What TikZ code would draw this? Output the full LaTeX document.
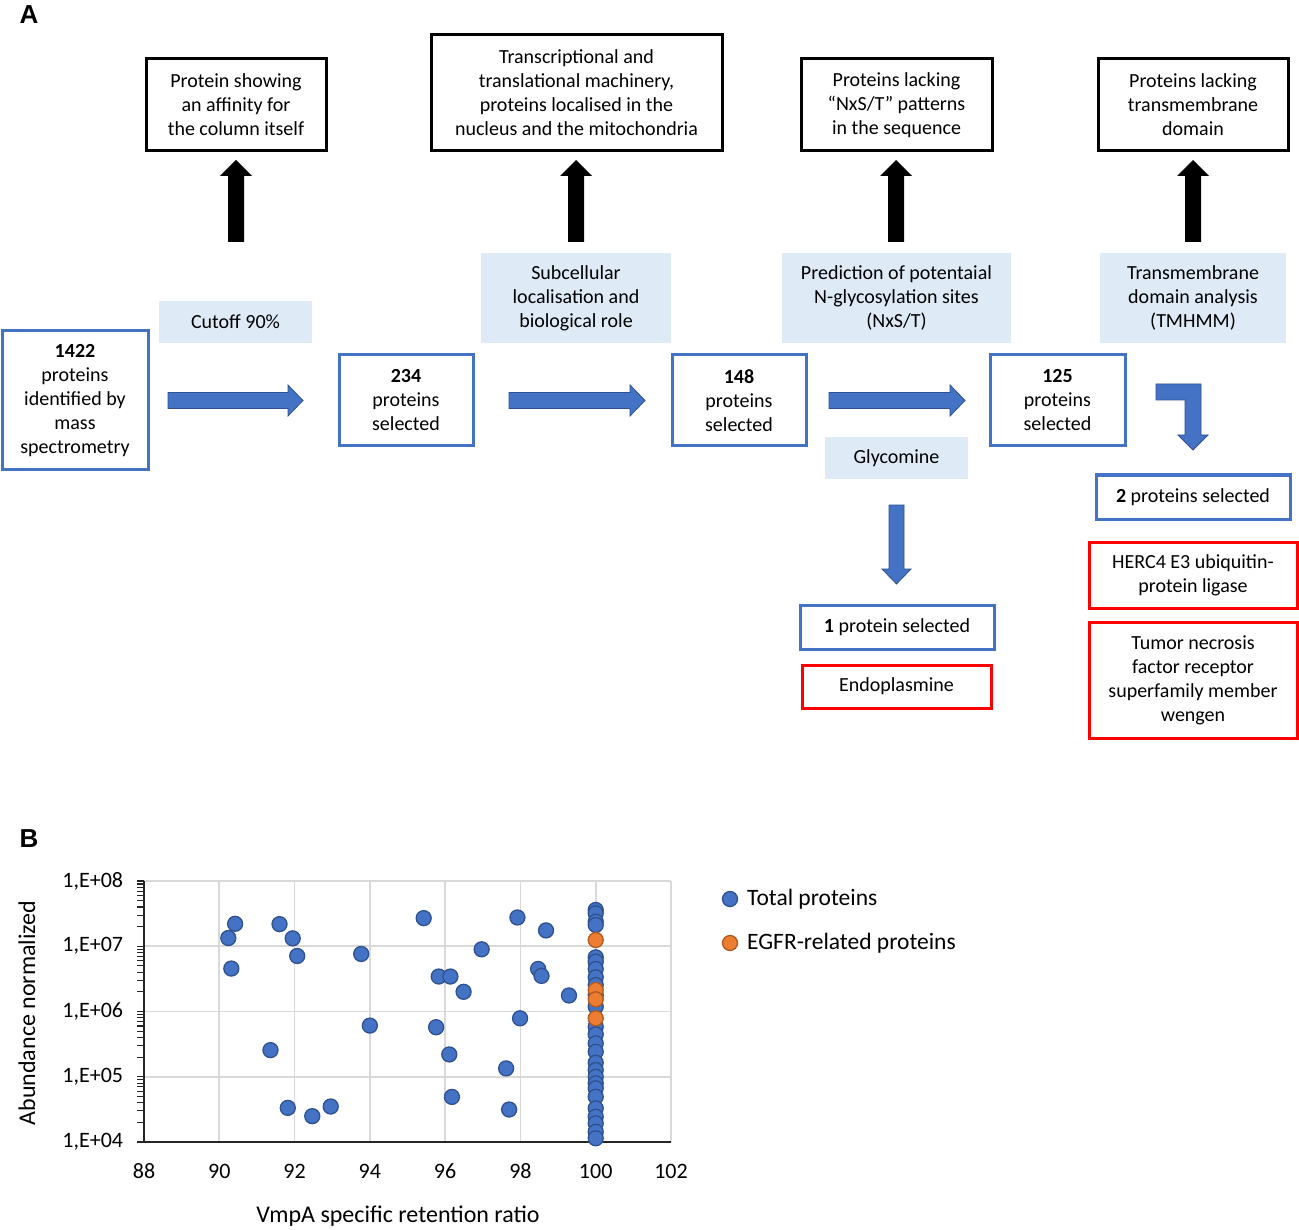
\documentclass[tikz,border=0pt]{standalone}
\usepackage{fontspec}
\setmainfont{Carlito}
\newfontfamily\labelfont{Liberation Sans}
\definecolor{bblue}{HTML}{4472C4}
\definecolor{bbluedark}{HTML}{2F528F}
\definecolor{lightblue}{HTML}{DEEBF7}
\definecolor{oorange}{HTML}{ED7D31}
\definecolor{oorangedark}{HTML}{AE5A21}
\definecolor{gridgray}{HTML}{D9D9D9}
\newcommand\flowfont{\fontsize{20}{24}\selectfont}
\begin{document}
\begin{tikzpicture}[x=1pt,y=-1pt,
  blackbox/.style={draw=black, line width=3pt, align=center, inner sep=0pt, font=\flowfont},
  bluebox/.style={draw=bblue, line width=3pt, align=center, inner sep=0pt, font=\flowfont},
  redbox/.style={draw=red, line width=3pt, align=center, inner sep=0pt, font=\flowfont},
  tagbox/.style={fill=lightblue, align=center, inner sep=0pt, font=\flowfont},
  blockarrow/.style={fill=bblue, draw=bbluedark, line width=0.8pt},
  blackarrow/.style={fill=black},
  gridline/.style={draw=gridgray, line width=1.6pt},
  axisline/.style={draw=black!85, line width=1.6pt},
  bluept/.style={fill=bblue, draw=bbluedark, line width=1.3pt},
  orangept/.style={fill=oorange, draw=oorangedark, line width=1.3pt},
  ticklab/.style={font=\fontsize{22}{26}\selectfont, inner sep=0pt},
  panellab/.style={font=\labelfont\bfseries\fontsize{26}{30}\selectfont, inner sep=0pt}
]
\useasboundingbox[fill=white] (0,0) rectangle (1299,1230);

% panel labels
\node[panellab] (labA) at (29,15) {A};
\node[panellab] (labB) at (29,839) {B};

% excluded-protein boxes (black)
\node[blackbox, minimum width=180pt, minimum height=92pt] (ex1) at (236,105) {Protein showing\\an affinity for\\the column itself};
\node[blackbox, minimum width=291pt, minimum height=116pt] (ex2) at (576.5,93) {Transcriptional and\\translational machinery,\\proteins localised in the\\nucleus and the mitochondria};
\node[blackbox, minimum width=191pt, minimum height=92pt] (ex3) at (896.5,105) {Proteins lacking\\“NxS/T” patterns\\in the sequence};
\node[blackbox, minimum width=190pt, minimum height=92pt] (ex4) at (1193,105) {Proteins lacking\\transmembrane\\domain};

% black up arrows
\foreach \cx in {236,576,896,1193}{
  \fill[blackarrow] (\cx-8,242) -- (\cx-8,176) -- (\cx-16,176) -- (\cx,160) -- (\cx+16,176) -- (\cx+8,176) -- (\cx+8,242) -- cycle;
}

% step labels (light blue)
\node[tagbox, minimum width=153pt, minimum height=42pt] (t1) at (235.5,322) {Cutoff 90\%};
\node[tagbox, minimum width=190pt, minimum height=90pt] (t2) at (576,298) {Subcellular\\localisation and\\biological role};
\node[tagbox, minimum width=229pt, minimum height=90pt] (t3) at (896.5,298) {Prediction of potentaial\\N-glycosylation sites\\(NxS/T)};
\node[tagbox, minimum width=186pt, minimum height=90pt] (t4) at (1193,298) {Transmembrane\\domain analysis\\(TMHMM)};
\node[tagbox, minimum width=143pt, minimum height=42pt] (t5) at (896.5,458) {Glycomine};

% counts (blue boxes)
\node[bluebox, minimum width=146pt, minimum height=139pt] (n1422) at (75,400.5) {\textbf{1422}\\proteins\\identified by\\mass\\spectrometry};
\node[bluebox, minimum width=134pt, minimum height=91pt] (n234) at (406,400.5) {\textbf{234}\\proteins\\selected};
\node[bluebox, minimum width=134pt, minimum height=91pt] (n148) at (739,400.5) {\textbf{148}\\proteins\\selected};
\node[bluebox, minimum width=135pt, minimum height=91pt] (n125) at (1057.5,400.5) {\textbf{125}\\proteins\\selected};
\node[bluebox, minimum width=194pt, minimum height=44pt] (n2) at (1193,497) {\textbf{2} proteins selected};
\node[bluebox, minimum width=194pt, minimum height=44pt] (n1) at (897,627) {\textbf{1} protein selected};

% results (red boxes)
\node[redbox, minimum width=189pt, minimum height=43pt] (r1) at (896.5,686.5) {Endoplasmine};
\node[redbox, minimum width=208pt, minimum height=66pt] (r2) at (1193,575) {HERC4 E3 ubiquitin-\\protein ligase};
\node[redbox, minimum width=208pt, minimum height=116pt] (r3) at (1193,680) {Tumor necrosis\\factor receptor\\superfamily member\\wengen};

% blue block arrows (right)
\foreach \xa/\xb in {168/303, 509/645, 829/965}{
  \filldraw[blockarrow] (\xa,392.5) -- (\xb-15,392.5) -- (\xb-15,385) -- (\xb,400.5) -- (\xb-15,416) -- (\xb-15,408.5) -- (\xa,408.5) -- cycle;
}
% down arrow below Glycomine
\filldraw[blockarrow] (889,505) -- (904,505) -- (904,569) -- (911,569) -- (896.5,584) -- (882,569) -- (889,569) -- cycle;
% bent arrow next to 125
\filldraw[blockarrow] (1156,384) -- (1201,384) -- (1201,435) -- (1208,435) -- (1193,450) -- (1178,435) -- (1185,435) -- (1185,400) -- (1156,400) -- cycle;

% ---------- panel B: scatter plot ----------
\coordinate (O) at (144,1142);
\begin{scope}[shift={(O)}, x=37.643pt, y=65.25pt]
  \foreach \i in {2,4,...,14} \draw[gridline] (\i,0) -- (\i,4);
  \foreach \j in {1,2,3,4} \draw[gridline] (0,\j) -- (14,\j);
  \draw[axisline] (14,0) -- (0,0) -- (0,4);
  \foreach \d in {0,1,2,3}{
    \foreach \k in {1,...,9}{
      \draw[draw=black!85, line width=1.1pt] (0,{\d+log10(\k)}) -- ++(-7pt,0);
    }
  }
  \draw[draw=black!85, line width=1.1pt] (0,4) -- ++(-7pt,0);
  % y tick labels
  \foreach \j/\lab in {0/1\,E+04,1/1\,E+05,2/1\,E+06,3/1\,E+07,4/1\,E+08}{}
  \node[ticklab, anchor=east] (yl4) at (-0.55,0) {1,E+04};
  \node[ticklab, anchor=east] (yl5) at (-0.55,1) {1,E+05};
  \node[ticklab, anchor=east] (yl6) at (-0.55,2) {1,E+06};
  \node[ticklab, anchor=east] (yl7) at (-0.55,3) {1,E+07};
  \node[ticklab, anchor=east] (yl8) at (-0.55,4) {1,E+08};
  % x tick labels
  \foreach \v in {88,90,...,102}{
    \node[ticklab] (xl\v) at ({\v-88},-0.445) {\v};
  }
  % scattered points
  \foreach \px/\py in {90.42/7.344, 90.24/7.126, 90.32/6.658, 91.60/7.339, 91.95/7.121, 92.07/6.851,
      91.36/5.408, 91.82/4.523, 92.47/4.396, 92.96/4.544, 93.77/6.882, 94.00/5.784,
      95.43/7.431, 95.83/6.536, 96.14/6.536, 95.76/5.759, 96.49/6.302, 96.11/5.342,
      96.18/4.691, 96.97/6.953, 97.92/7.441, 98.68/7.243, 98.47/6.653, 98.56/6.546,
      99.29/6.246, 97.99/5.896, 97.62/5.128, 97.70/4.498}{
    \filldraw[bluept] ({\px-88},{\py-4}) circle[radius=7.5pt];
  }
  % column at 100
  \foreach \py in {7.556, 7.505, 7.377, 7.326, 6.830, 6.764, 6.651, 6.524, 6.406, 6.250, 6.074,
      5.767, 5.650, 5.512, 5.384, 5.215, 5.103, 5.000, 4.899, 4.823, 4.694, 4.516,
      4.388, 4.286, 4.158, 4.057}{
    \filldraw[bluept] (12,{\py-4}) circle[radius=7.5pt];
  }
  \foreach \py in {7.096, 6.330, 6.187, 5.896}{
    \filldraw[orangept] (12,{\py-4}) circle[radius=7.5pt];
  }
\end{scope}

% axis titles
\node[font=\fontsize{24}{28}\selectfont, inner sep=0pt] (xtitle) at (398,1216) {VmpA specific retention ratio};
\node[font=\fontsize{24}{28}\selectfont, inner sep=0pt, rotate=90] (ytitle) at (27,1013) {Abundance normalized};

% legend
\filldraw[bluept] (730,899) circle[radius=7.5pt];
\node[font=\fontsize{23.5}{28}\selectfont, inner sep=0pt, anchor=west] (leg1) at (747,899) {Total proteins};
\filldraw[orangept] (730,943) circle[radius=7.5pt];
\node[font=\fontsize{23.5}{28}\selectfont, inner sep=0pt, anchor=west] (leg2) at (747,943) {EGFR-related proteins};
\end{tikzpicture}
\end{document}
